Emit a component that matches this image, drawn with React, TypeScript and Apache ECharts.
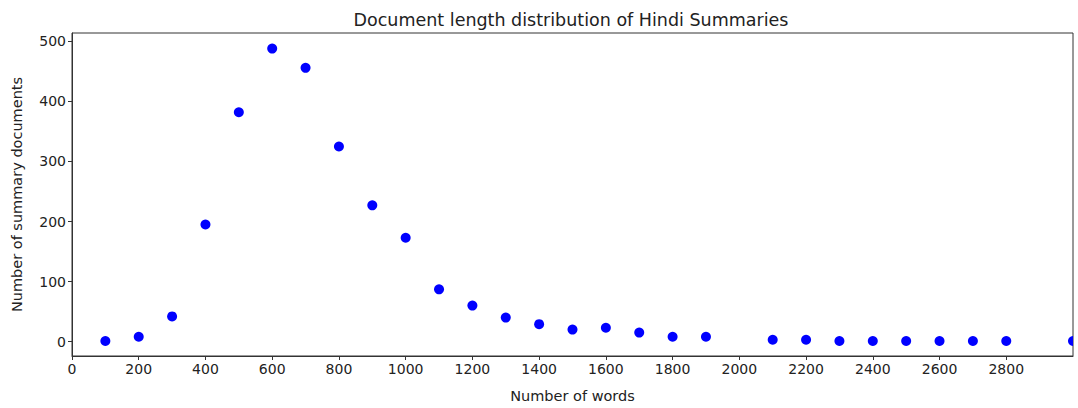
import React, { useEffect, useRef } from "react";
import * as echarts from "echarts";

const titleText = "Document length distribution of Hindi Summaries";
const xLabel = "Number of words";
const yLabel = "Number of summary documents";

const wordCounts = [100, 200, 300, 400, 500, 600, 700, 800, 900, 1000, 1100, 1200, 1300, 1400, 1500, 1600, 1700, 1800, 1900, 2100, 2200, 2300, 2400, 2500, 2600, 2700, 2800, 3000];
const docCounts = [1, 8, 42, 195, 382, 488, 456, 325, 227, 173, 87, 60, 40, 29, 20, 23, 15, 8, 8, 3, 3, 1, 1, 1, 1, 1, 1, 1];

const xTicks = [0, 200, 400, 600, 800, 1000, 1200, 1400, 1600, 1800, 2000, 2200, 2400, 2600, 2800];
const yTicks = [0, 100, 200, 300, 400, 500];

const FONT = "DejaVu Sans";
const AXIS_COLOR = "#333";
const TEXT_COLOR = "#222";

export default function App() {
  const ref = useRef<HTMLDivElement>(null);
  useEffect(() => {
    document.body.style.margin = "0";
    const chart = echarts.init(ref.current!, null, { renderer: "svg" });
    chart.setOption({
      animation: false,
      backgroundColor: "#fff",
      textStyle: { fontFamily: FONT },
      title: {
        text: titleText,
        left: 566,
        top: 6,
        textAlign: "center",
        textStyle: { fontFamily: FONT, fontSize: 17.5, fontWeight: "normal", color: TEXT_COLOR },
      },
      grid: {
        left: 72,
        right: 5,
        top: 33,
        bottom: 50,
        show: true,
        borderColor: AXIS_COLOR,
        borderWidth: 1,
        backgroundColor: "transparent",
      },
      xAxis: {
        type: "value",
        min: 0,
        max: 3000,
        name: xLabel,
        nameLocation: "middle",
        nameGap: 32,
        nameTextStyle: { fontFamily: FONT, fontSize: 14.5, color: TEXT_COLOR },
        splitLine: { show: false },
        axisLine: { show: true, onZero: false, lineStyle: { color: AXIS_COLOR, width: 1 } },
        axisTick: { show: true, length: 4, customValues: xTicks, lineStyle: { color: AXIS_COLOR } },
        axisLabel: {
          customValues: xTicks,
          formatter: (v: number) => String(v),
          fontFamily: FONT,
          fontSize: 14,
          color: TEXT_COLOR,
          margin: 6,
        },
      },
      yAxis: {
        type: "value",
        min: -24,
        max: 514,
        name: yLabel,
        nameLocation: "middle",
        nameGap: 48,
        nameTextStyle: { fontFamily: FONT, fontSize: 14.5, color: TEXT_COLOR },
        splitLine: { show: false },
        axisLine: { show: true, onZero: false, lineStyle: { color: AXIS_COLOR, width: 1 } },
        axisTick: { show: true, length: 4, customValues: yTicks, lineStyle: { color: AXIS_COLOR } },
        axisLabel: {
          customValues: yTicks,
          formatter: (v: number) => String(v),
          fontFamily: FONT,
          fontSize: 14,
          color: TEXT_COLOR,
          margin: 6,
        },
      },
      series: [
        {
          type: "custom",
          clip: true,
          data: wordCounts.map((x, i) => [x, docCounts[i]]),
          encode: { x: 0, y: 1 },
          renderItem: (params: any, api: any) => {
            const p = api.coord([api.value(0), api.value(1)]);
            return {
              type: "circle",
              shape: { cx: p[0], cy: p[1], r: 5 },
              style: { fill: "#0000ff" },
            };
          },
        },
      ],
    });
    return () => chart.dispose();
  }, []);
  return <div ref={ref} style={{ width: 1078, height: 408 }} />;
}
